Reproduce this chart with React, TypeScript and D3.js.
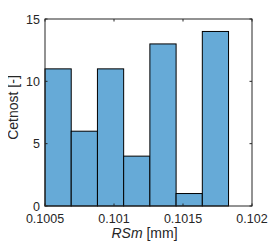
import { useRef, useEffect } from "react";
import * as d3 from "d3";

// histogram bins (RSm in mm) and counts
const binStart = 0.1005;
const binWidth = 0.00019;
const counts = [11, 6, 11, 4, 13, 1, 14];
const xTicks = [0.1005, 0.101, 0.1015, 0.102];
const xTickLabels = ["0.1005", "0.101", "0.1015", "0.102"];
const yTicks = [0, 5, 10, 15];

const App = () => {
  const svgRef = useRef<SVGSVGElement>(null);

  useEffect(() => {
    const svg = d3.select(svgRef.current);
    svg.selectAll("*").remove();

    const margin = { left: 45, top: 19, right: 28, bottom: 44 };
    const W = 280;
    const H = 250;
    const innerW = W - margin.left - margin.right;
    const innerH = H - margin.top - margin.bottom;

    const x = d3.scaleLinear().domain([0.1005, 0.102]).range([0, innerW]);
    const y = d3.scaleLinear().domain([0, 15]).range([innerH, 0]);

    const g = svg
      .append("g")
      .attr("transform", `translate(${margin.left},${margin.top})`);

    const bins = counts.map((c, i) => ({
      x0: binStart + i * binWidth,
      x1: binStart + (i + 1) * binWidth,
      c,
    }));

    g.selectAll("rect.bar")
      .data(bins)
      .join("rect")
      .attr("class", "bar")
      .attr("x", (d) => x(d.x0))
      .attr("width", (d) => x(d.x1) - x(d.x0))
      .attr("y", (d) => y(d.c))
      .attr("height", (d) => y(0) - y(d.c))
      .attr("fill", "#66aad7")
      .attr("stroke", "#000")
      .attr("stroke-width", 1);

    // box
    g.append("rect")
      .attr("x", 0)
      .attr("y", 0)
      .attr("width", innerW)
      .attr("height", innerH)
      .attr("fill", "none")
      .attr("stroke", "#262626")
      .attr("stroke-width", 1);

    const font = "'Liberation Sans', Arial, sans-serif";
    const tickLen = 2.5;

    // x ticks
    xTicks.forEach((t, i) => {
      g.append("line")
        .attr("x1", x(t)).attr("x2", x(t))
        .attr("y1", innerH).attr("y2", innerH - tickLen)
        .attr("stroke", "#262626");
      g.append("line")
        .attr("x1", x(t)).attr("x2", x(t))
        .attr("y1", 0).attr("y2", tickLen)
        .attr("stroke", "#262626");
      g.append("text")
        .attr("x", x(t))
        .attr("y", innerH + 17)
        .attr("text-anchor", "middle")
        .attr("font-family", font)
        .attr("font-size", 12.5)
        .attr("fill", "#262626")
        .text(xTickLabels[i]);
    });

    // y ticks
    yTicks.forEach((t) => {
      g.append("line")
        .attr("x1", 0).attr("x2", tickLen)
        .attr("y1", y(t)).attr("y2", y(t))
        .attr("stroke", "#262626");
      g.append("line")
        .attr("x1", innerW).attr("x2", innerW - tickLen)
        .attr("y1", y(t)).attr("y2", y(t))
        .attr("stroke", "#262626");
      g.append("text")
        .attr("x", -5)
        .attr("y", y(t) + 4.5)
        .attr("text-anchor", "end")
        .attr("font-family", font)
        .attr("font-size", 12.5)
        .attr("fill", "#262626")
        .text(t);
    });

    // x label
    const xl = g
      .append("text")
      .attr("x", innerW / 2 - 4)
      .attr("y", innerH + 32)
      .attr("text-anchor", "middle")
      .attr("font-family", font)
      .attr("font-size", 14)
      .attr("fill", "#262626");
    xl.append("tspan").attr("font-style", "italic").text("RSm");
    xl.append("tspan").text(" [mm]");

    // y label
    g.append("text")
      .attr("transform", `translate(${-27},${innerH / 2 - 5}) rotate(-90)`)
      .attr("text-anchor", "middle")
      .attr("font-family", font)
      .attr("font-size", 14)
      .attr("fill", "#262626")
      .text("Četnost [-]");
  }, []);

  return (
    <div style={{ width: 280, height: 250, margin: "-8px" }}>
      <svg ref={svgRef} width={280} height={250} style={{ display: "block" }} />
    </div>
  );
};

export default App;
